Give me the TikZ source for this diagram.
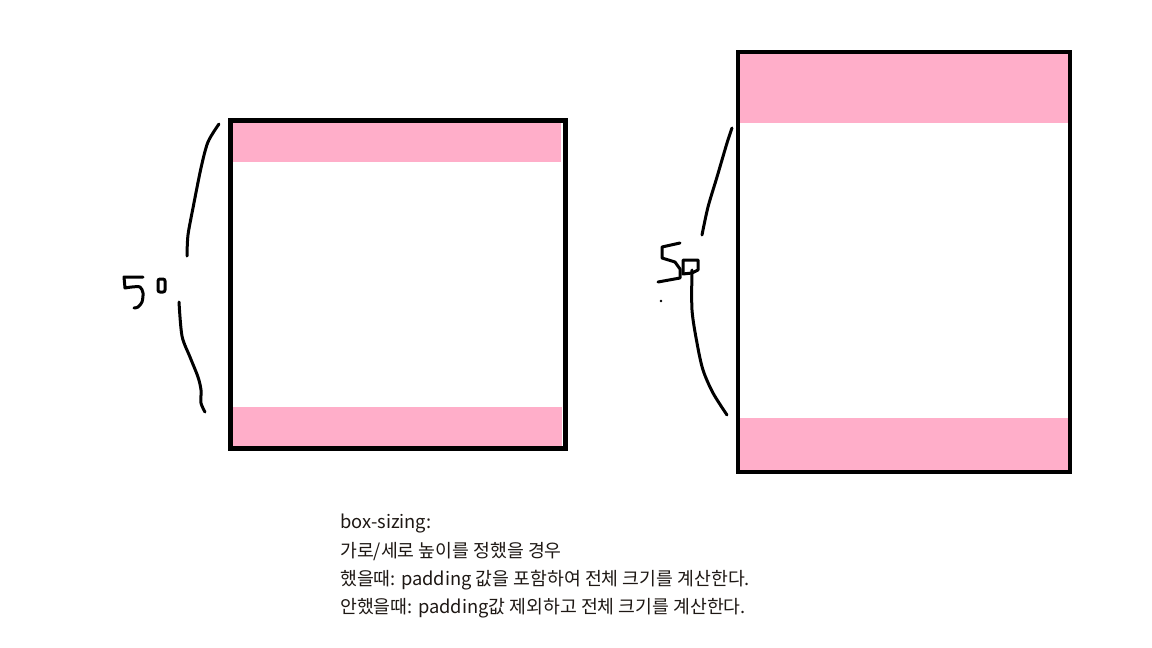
\documentclass[tikz,border=0pt]{standalone}
\usepackage{fontspec}
\newfontfamily\krfont{Noto Sans CJK KR}
\definecolor{rose}{RGB}{255,174,201}
\definecolor{txt}{RGB}{30,24,20}
\begin{document}
\begin{tikzpicture}[x=1pt,y=-1pt,
  frame/.style={draw=black,fill=none},
  pad/.style={fill=rose,draw=none},
  hand/.style={line width=3pt,line cap=round,line join=round},
  note/.style={anchor=base west,inner sep=0pt,font=\krfont\fontsize{18.3}{20}\selectfont,text=txt}]
\useasboundingbox[fill=white] (0,0) rectangle (1152,648);
% left box
\fill[pad] (233,123) rectangle (561,162);
\fill[pad] (232,407) rectangle (562,447);
\node[frame,line width=5pt,minimum width=335pt,minimum height=328pt,inner sep=0pt] (lbox) at (398,284.5) {};
% right box
\fill[pad] (739,53) rectangle (1068,123);
\fill[pad] (739,418) rectangle (1068,471);
\node[frame,line width=3.6pt,minimum width=332.5pt,minimum height=420.5pt,inner sep=0pt] (rbox) at (904,262) {};
% left bracket
\draw[hand] plot[smooth] coordinates {(219,124) (208,142) (201,168) (193,208) (188,235) (187,256)};
\draw[hand] plot[smooth] coordinates {(179,302) (182,336) (190,357) (198,377) (201,390) (201,403) (205,412)};
% left "50"
\draw[hand] (143,277) -- (124,277) -- (125,288) -- plot[smooth] coordinates {(125,288) (132,287) (140,287) (143,293) (142,302) (138,307) (134,308)};
\draw[hand,rounded corners=2pt] (158,292) -- (158,279) -- (165,279) -- (165,292) -- cycle;
% right bracket
\draw[hand] plot[smooth] coordinates {(732,128) (727,143) (717,177) (708,207) (702,235)};
\draw[hand] plot[smooth] coordinates {(692,270) (692,310) (697,343) (703,370) (713,393) (727,415)};
% right "50"
\draw[hand] (680,243) -- (662,247) -- (662,258) -- (675,262) -- (680,269) -- (680,278) -- (658,282);
\draw[hand] (683,260) -- (698,260) -- (698,270) -- (692,273) -- (683,274) -- cycle;
\fill (661,301) circle (1.3pt);
% text
\node[note] (t1) at (340,528) {box-sizing:};
\node[note] (t2) at (340,557) {가로/세로 높이를 정했을 경우};
\node[note] (t3) at (340,585) {했을때: padding 값을 포함하여 전체 크기를 계산한다.};
\node[note] (t4) at (340,613) {안했을때: padding값 제외하고 전체 크기를 계산한다.};
\end{tikzpicture}
\end{document}
